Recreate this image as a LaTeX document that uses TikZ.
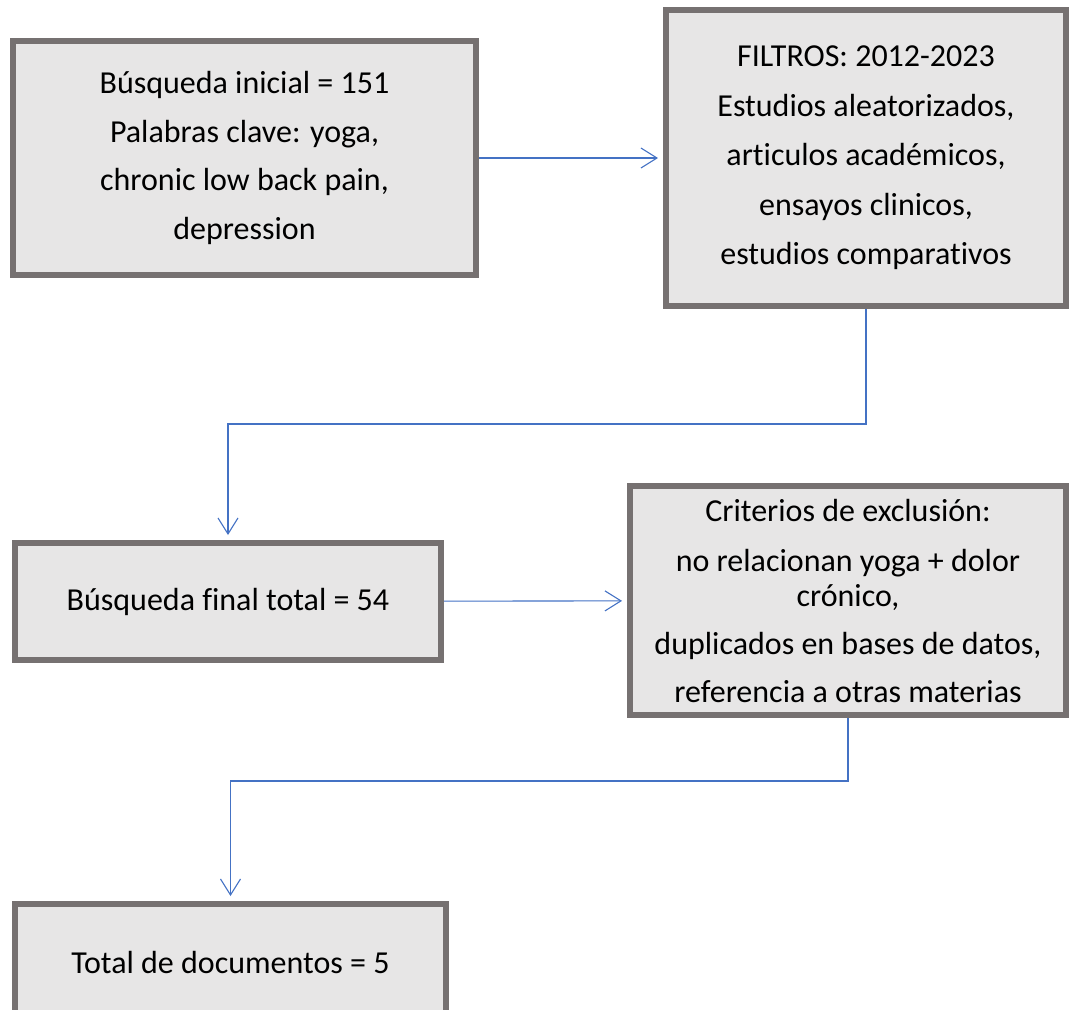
\documentclass[tikz,border=0pt]{standalone}
\usepackage{fontspec}
\setmainfont[Ligatures=NoCommon]{Carlito}
\usepackage{tikz}
\usetikzlibrary{arrows.meta,positioning}
\definecolor{boxgray}{HTML}{767171}
\definecolor{boxfill}{HTML}{E7E6E6}
\definecolor{arrowblue}{HTML}{4472C4}

\begin{document}
\begin{tikzpicture}[->,>={Straight Barb[length=16pt,width=20pt]},x=1pt,y=-1pt,
                    line width=1.1pt,shorten >=5pt]
  \tikzstyle{box}=[draw=boxgray,fill=boxfill,line width=6pt,align=center,
                   inner sep=0pt,font=\fontsize{32}{48.5}\selectfont]
  \tikzstyle{flow}=[draw=arrowblue]
  \useasboundingbox (0,0) rectangle (1069,1010);

  \node[box,minimum width=463pt,minimum height=234pt] (inicial) at (244.5,158)
    {Búsqueda inicial = 151\\Palabras clave: yoga,\\chronic low back pain,\\depression};
  \node[box,minimum width=400pt,minimum height=296pt,
        font=\fontsize{32}{49.5}\selectfont] (filtros) at (866,158)
    {FILTROS: 2012-2023\\Estudios aleatorizados,\\articulos académicos,\\ensayos clinicos,\\estudios comparativos};
  \node[box,minimum width=426pt,minimum height=117pt] (final) at (228,601.5)
    {Búsqueda final total = 54};
  \node[box,minimum width=436pt,minimum height=229pt,
        font=\fontsize{32}{35}\selectfont] (exclusion) at (848,600.5)
    {Criterios de exclusión:\\[15pt]no relacionan yoga + dolor\\crónico,\\[13pt]duplicados en bases de datos,\\[13pt]referencia a otras materias};
  \node[box,minimum width=431pt,minimum height=117pt] (total) at (230.5,962.5)
    {Total de documentos = 5};

  \path (inicial) edge[flow] (filtros)
        (final) edge[flow] (exclusion);
  \draw[flow] (filtros.south) -- ++(0,115) -| (final.north);
  \draw[flow] (exclusion.south) -- ++(0,63) -| (total.north);
\end{tikzpicture}
\end{document}
